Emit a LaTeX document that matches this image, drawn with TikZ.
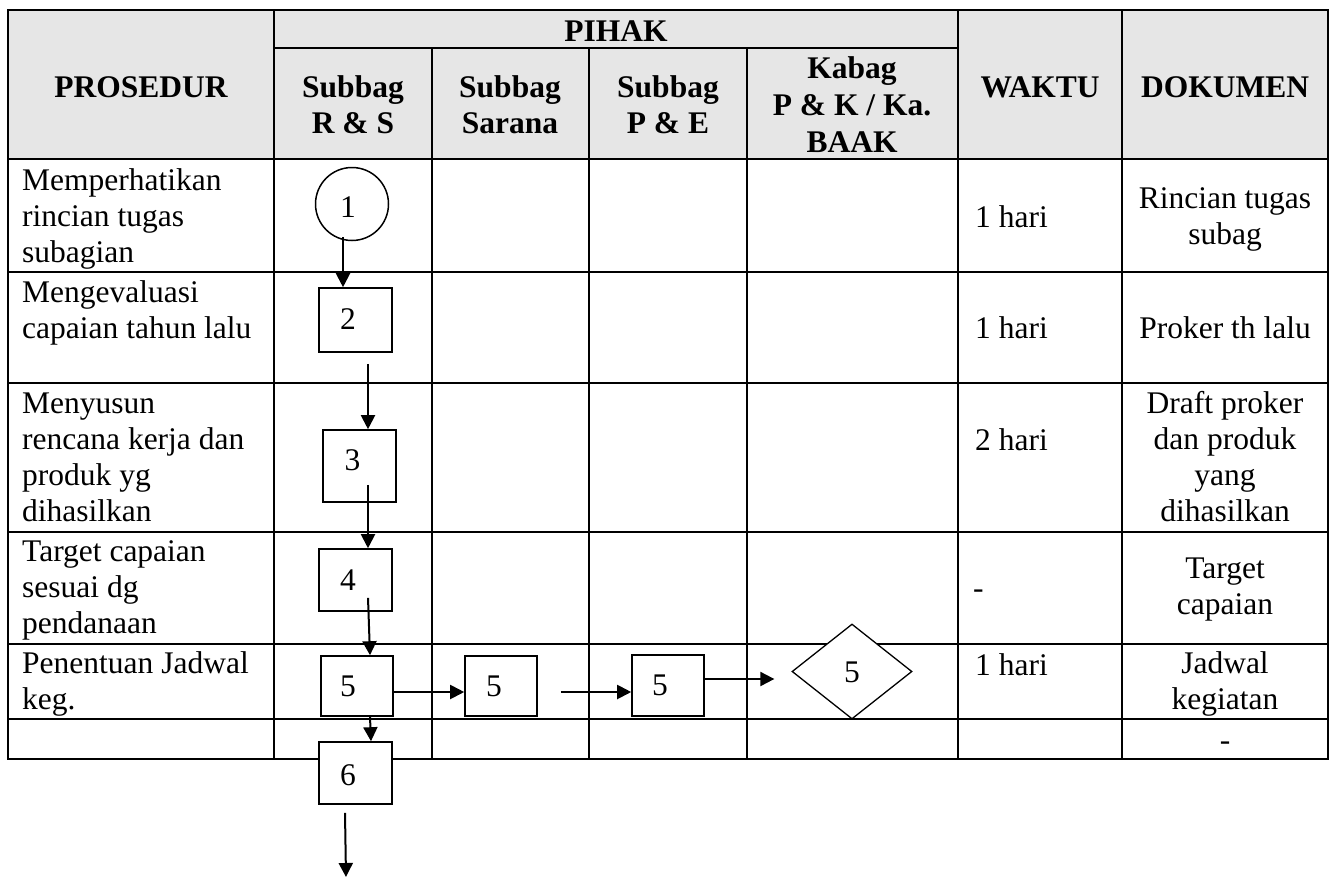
\documentclass[tikz,border=0pt]{standalone}
\usepackage{fontspec}
\setmainfont{Liberation Serif}
\usetikzlibrary{arrows.meta,shapes.geometric,calc}
\definecolor{hdr}{HTML}{E6E6E6}
\begin{document}
\begin{tikzpicture}[x=1pt,y=-1pt,
  every node/.style={font=\fontsize{31.5}{36}\selectfont, inner sep=0pt},
  hd/.style={font=\fontsize{31.5}{36}\selectfont\bfseries, align=center, anchor=base},
  tl/.style={align=left, anchor=base west},
  tc/.style={align=center, anchor=base},
  tabline/.style={line width=2.2pt},
  procbox/.style={draw, rectangle, line width=1.6pt, fill=white},
  arr/.style={line width=2pt, -{Triangle[length=14pt,width=14pt]}}]
\useasboundingbox (0,0) rectangle (1330,878);
% header background
\fill[hdr] (8,10) rectangle (1328,159);
% table grid
\draw[tabline] (8,10) rectangle (1328,759);
\draw[tabline] (274,48) -- (958,48);
\foreach \yy in {159,272,383,532,644,719} \draw[tabline] (8,\yy) -- (1328,\yy);
\draw[tabline] (274,10) -- (274,759);
\foreach \xx in {432,589,747} \draw[tabline] (\xx,48) -- (\xx,759);
\foreach \xx in {958,1122} \draw[tabline] (\xx,10) -- (\xx,759);
% header texts (base = baseline of last line)
\node[hd] (hProsedur) at (141,97) {PROSEDUR};
\node[hd] (hPihak) at (616,41) {PIHAK};
\node[hd] (hRS) at (353,133.5) {Subbag\\R \& S};
\node[hd] (hSar) at (510,133.5) {Subbag\\Sarana};
\node[hd] (hPE) at (668,133.5) {Subbag\\P \& E};
\node[hd, font=\fontsize{31.5}{37}\selectfont\bfseries] (hKab) at (852,152) {Kabag\\P \& K / Ka.\\BAAK};
\node[hd] (hWaktu) at (1040,97) {WAKTU};
\node[hd] (hDok) at (1225,97) {DOKUMEN};
% procedure column
\node[tl] (p1) at (22,262) {Memperhatikan\\rincian tugas\\subagian};
\node[tl] (p2) at (22,338) {Mengevaluasi\\capaian tahun lalu};
\node[tl] (p3) at (22,521) {Menyusun\\rencana kerja dan\\produk yg\\dihasilkan};
\node[tl] (p4) at (22,633) {Target capaian\\sesuai dg\\pendanaan};
\node[tl] (p5) at (22,709) {Penentuan Jadwal\\keg.};
% waktu column
\node[tl] (w1) at (975,227) {1 hari};
\node[tl] (w2) at (975,338) {1 hari};
\node[tl] (w3) at (975,450) {2 hari};
\node[tl] (w4) at (973,598) {-};
\node[tl] (w5) at (975,675) {1 hari};
% dokumen column
\node[tc] (d1) at (1225,244) {Rincian tugas\\subag};
\node[tc] (d2) at (1225,338) {Proker th lalu};
\node[tc] (d3) at (1225,521) {Draft proker\\dan produk\\yang\\dihasilkan};
\node[tc] (d4) at (1225,614) {Target\\capaian};
\node[tc] (d5t) at (1225,709) {Jadwal\\kegiatan};
\node[tc] (d6) at (1225,750) {-};
% flow shapes
\node[draw, circle, line width=1.5pt, fill=white, minimum size=73pt] (c1) at (352,204) {};
\node[procbox, minimum width=73pt, minimum height=64pt] (b2) at (355.5,320) {};
\node[procbox, minimum width=73pt, minimum height=72pt] (b3) at (359.5,466) {};
\node[procbox, minimum width=73pt, minimum height=62pt] (b4) at (355.5,580) {};
\node[procbox, minimum width=72pt, minimum height=60pt] (b5a) at (357,686) {};
\node[procbox, minimum width=73pt, minimum height=62pt] (b6) at (355.5,773) {};
\node[procbox, minimum width=72pt, minimum height=60pt] (b5b) at (501,686) {};
\node[procbox, minimum width=72pt, minimum height=61pt] (b5c) at (668,685.5) {};
\node[draw, diamond, line width=1.3pt, fill=white, minimum width=120pt, minimum height=95pt] (d5) at (852,671.5) {};
\coordinate (endpt) at (346,877);
% numbers
\node (n1) at ([xshift=-4pt,yshift=-3pt]c1.center) {1};
\node (n2) at ([xshift=-7.5pt,yshift=1pt]b2.center) {2};
\node (n3) at ([xshift=-7pt,yshift=6pt]b3.center) {3};
\node (n4) at ([xshift=-7.5pt]b4.center) {4};
\node (n5a) at ([xshift=-9pt]b5a.center) {5};
\node (n6) at ([xshift=-7.5pt,yshift=-2pt]b6.center) {6};
\node (n5b) at ([xshift=-7pt]b5b.center) {5};
\node (n5c) at ([xshift=-8pt]b5c.center) {5};
\node (n5d) at ([yshift=-1pt]d5.center) {5};
% connectors
\draw[arr] ([xshift=-9pt,yshift=4.5pt]c1.south) -- ([xshift=-12.5pt]b2.north);
\draw[arr] ([xshift=12.5pt,yshift=-11pt]b2.south) -- ([xshift=8.5pt]b3.north);
\draw[arr] ([xshift=8.5pt,yshift=18pt]b3.south) -- ([xshift=12.5pt]b4.north);
\draw[arr] ([xshift=12.5pt,yshift=14pt]b4.south) -- ([xshift=13pt]b5a.north);
\draw[arr] ([xshift=13pt]b5a.south) -- ([xshift=15.5pt]b6.north);
\draw[arr] ([xshift=-10.5pt,yshift=-8pt]b6.south) -- (endpt);
\draw[arr] ([yshift=-6pt]b5a.east) -- ([yshift=-6pt]b5b.west);
\draw[arr] ([xshift=23pt,yshift=-6pt]b5b.east) -- ([yshift=-6.5pt]b5c.west);
\draw[arr] ([yshift=6.5pt]b5c.east) -- ([xshift=-17pt,yshift=-7.5pt]d5.west);
\end{tikzpicture}
\end{document}
